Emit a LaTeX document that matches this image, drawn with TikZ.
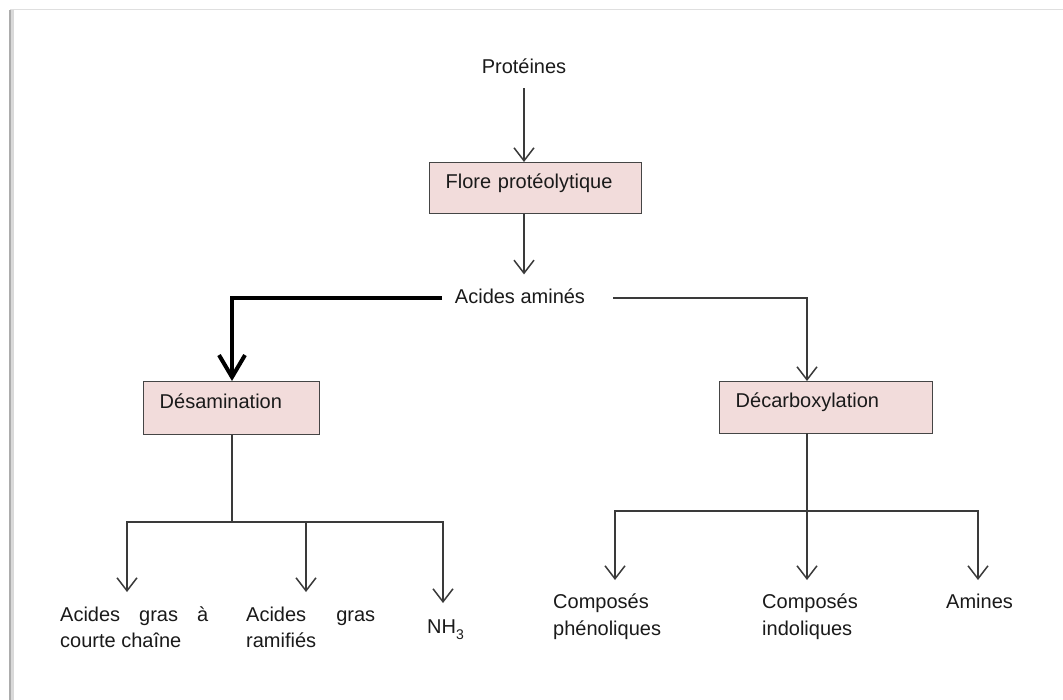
\documentclass[tikz,border=0pt]{standalone}
\usepackage{fontspec}
\setmainfont{Liberation Sans}
\usetikzlibrary{arrows.meta}
\definecolor{boxfill}{HTML}{F2DCDB}
\definecolor{boxline}{HTML}{454545}
\definecolor{lineclr}{HTML}{3A3A3A}
\definecolor{txt}{HTML}{1A1A1A}
\newcommand{\twolines}[3]{\vtop{\baselineskip=#1\hbox{#2}\hbox{#3}}}
\tikzset{
  every node/.style={text=txt, font=\fontsize{20}{26}\selectfont},
  lbl/.style={inner sep=0pt, anchor=base west},
  procbox/.style={draw=boxline, line width=1.4pt, fill=boxfill, anchor=north west,
     inner xsep=16pt, inner ysep=0pt, align=left, text height=12pt, text depth=12pt},
  conn/.style={draw=lineclr, line width=1.5pt},
  thinarrow/.style={conn, -{Straight Barb[length=13pt,width=20pt,line width=1.5pt]}},
  thickarrow/.style={draw=black, line width=4pt, -{Straight Barb[length=22pt,width=26pt,line width=4pt]}}
}
\begin{document}
\begin{tikzpicture}[x=1pt,y=-1pt]
\useasboundingbox (0,0) rectangle (1063,700);
\fill[white] (0,0) rectangle (1063,700);
% page frame
\draw[gray!25, line width=1pt] (10,10) -- (1063,10);
\draw[gray!30, line width=4pt] (12,10) -- (12,700);
\draw[gray!65, line width=1.5pt] (10,10) -- (10,700);

% nodes
\node[lbl, anchor=base] (prot) at (524,74) {Protéines};
\node[procbox, minimum width=212pt, minimum height=51pt, text width=180pt] (flore) at (429,162) {Flore protéolytique};
\node[lbl, anchor=base] (aa) at (520,304) {Acides aminés};
\node[procbox, minimum width=176pt, minimum height=53pt, text width=144pt] (desam) at (143,381) {Désamination};
\node[procbox, minimum width=213pt, minimum height=52pt, text width=181pt, inner xsep=15pt] (decarb) at (719,381) {Décarboxylation};

\node[lbl] (agc) at (60,621) {\twolines{26pt}{\makebox[148pt][s]{Acides gras à}}{courte chaîne}};
\node[lbl] (agr) at (246,621) {\twolines{26pt}{\makebox[129pt][s]{Acides gras}}{ramifiés}};
\node[lbl] (nh3) at (427,633) {NH\raisebox{-0.3ex}{\textsubscript{3}}};
\node[lbl] (cph) at (553,608) {\twolines{27pt}{Composés}{phénoliques}};
\node[lbl] (cin) at (762,608) {\twolines{27pt}{Composés}{indoliques}};
\node[lbl] (ami) at (946,608) {Amines};

% junction / tip coordinates
\coordinate (dcin) at (807,381);
\coordinate (dj) at (232,522);
\coordinate (t1) at (127,592);
\coordinate (t2) at (306,592);
\coordinate (t3) at (443,603);
\coordinate (dcout) at (807,433);
\coordinate (cj) at (807,511);
\coordinate (u1) at (615,580);
\coordinate (u2) at (807,580);
\coordinate (u3) at (978,580);
\coordinate (aal) at (442,298);
\coordinate (aar) at (613,298);

% connectors
\draw[thinarrow] (prot.south) ++(0,14) -- (prot |- flore.north);
\draw[thinarrow] (flore.south -| prot) -- ++(0,60);
\draw[thickarrow] (aal) -| (desam.north -| dj);
\draw[thinarrow] (aar) -| (dcin);

\draw[conn] (desam.south -| dj) -- (dj);
\draw[thinarrow] (dj) -| (t1);
\draw[thinarrow] (dj) -| (t2);
\draw[thinarrow] (dj) -| (t3);

\draw[thinarrow] (dcout) -- (u2);
\draw[thinarrow] (cj) -| (u1);
\draw[thinarrow] (cj) -| (u3);
\end{tikzpicture}
\end{document}
